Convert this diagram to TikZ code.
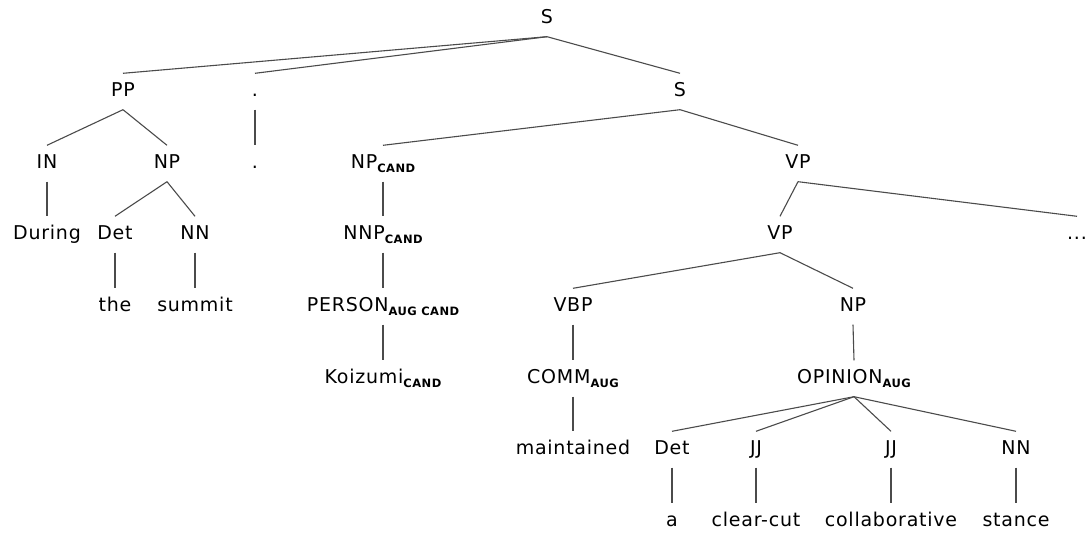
\documentclass[tikz,border=0pt]{standalone}
\usepackage{fontspec}
\setmainfont{DejaVu Sans}[LetterSpace=4]
\newcommand{\lsub}[1]{\raisebox{-4pt}{\fontsize{11.5}{12}\selectfont\bfseries #1}}
\definecolor{edgegray}{RGB}{75,75,75}
\begin{document}
\begin{tikzpicture}[x=1pt,y=-1pt,
  lbl/.style={anchor=base, text height=13pt, text depth=3pt, inner xsep=0pt, inner ysep=10pt,
    font=\fontsize{19}{22}\selectfont, text=black},
  edge/.style={draw=edgegray, line width=1.1pt}]
\useasboundingbox (0,0) rectangle (1085,534);
% rows (baselines)
\def\ra{23.5}\def\rb{96.5}\def\rc{168.5}\def\rd{239.5}
\def\re{311.5}\def\rf{383.5}\def\rg{454.5}\def\rh{526.5}
% row 1
\node[lbl] (S) at (547,\ra) {S};
% row 2
\node[lbl] (PP) at (123,\rb) {PP};
\node[lbl] (comma) at (255,\rb) {.};
\node[lbl] (S2) at (680,\rb) {S};
% row 3
\node[lbl] (IN) at (47,\rc) {IN};
\node[lbl] (NP1) at (167,\rc) {NP};
\node[lbl] (dot) at (255,\rc) {.};
\node[lbl] (NPc) at (383,\rc) {NP\lsub{CAND}};
\node[lbl] (VP1) at (798,\rc) {VP};
% row 4
\node[lbl] (During) at (47,\rd) {During};
\node[lbl] (Det1) at (115,\rd) {Det};
\node[lbl] (NN1) at (195,\rd) {NN};
\node[lbl] (NNPc) at (383,\rd) {NNP\lsub{CAND}};
\node[lbl] (VP2) at (780,\rd) {VP};
\node[lbl] (dots) at (1077,\rd) {...};
% row 5
\node[lbl] (the) at (115,\re) {the};
\node[lbl] (summit) at (195,\re) {summit};
\node[lbl] (PERS) at (383,\re) {PERSON\lsub{AUG CAND}};
\node[lbl] (VBP) at (573,\re) {VBP};
\node[lbl] (NP2) at (853,\re) {NP};
% row 6
\node[lbl] (Koizumi) at (383,\rf) {Koizumi\lsub{CAND}};
\node[lbl] (COMM) at (573,\rf) {COMM\lsub{AUG}};
\node[lbl] (OPIN) at (854,\rf) {OPINION\lsub{AUG}};
% row 7
\node[lbl] (maint) at (573,\rg) {maintained};
\node[lbl] (Det2) at (672,\rg) {Det};
\node[lbl] (JJ1) at (756,\rg) {JJ};
\node[lbl] (JJ2) at (891,\rg) {JJ};
\node[lbl] (NN2) at (1016,\rg) {NN};
% row 8
\node[lbl] (a) at (672,\rh) {a};
\node[lbl] (clear) at (756,\rh) {clear-cut};
\node[lbl] (collab) at (891,\rh) {collaborative};
\node[lbl] (stance) at (1016,\rh) {stance};
% edges
\draw[edge] (S.south) -- (PP.north);
\draw[edge] (S.south) -- (comma.north);
\draw[edge] (S.south) -- (S2.north);
\draw[edge] (PP.south) -- (IN.north);
\draw[edge] (PP.south) -- (NP1.north);
\draw[edge] (comma.south) -- (dot.north);
\draw[edge] (S2.south) -- (NPc.north);
\draw[edge] (S2.south) -- (VP1.north);
\draw[edge] (IN.south) -- (During.north);
\draw[edge] (NP1.south) -- (Det1.north);
\draw[edge] (NP1.south) -- (NN1.north);
\draw[edge] (NPc.south) -- (NNPc.north);
\draw[edge] (VP1.south) -- (VP2.north);
\draw[edge] (VP1.south) -- (dots.north);
\draw[edge] (Det1.south) -- (the.north);
\draw[edge] (NN1.south) -- (summit.north);
\draw[edge] (NNPc.south) -- (PERS.north);
\draw[edge] (VP2.south) -- (VBP.north);
\draw[edge] (VP2.south) -- (NP2.north);
\draw[edge] (PERS.south) -- (Koizumi.north);
\draw[edge] (VBP.south) -- (COMM.north);
\draw[edge] (NP2.south) -- (OPIN.north);
\draw[edge] (COMM.south) -- (maint.north);
\draw[edge] (OPIN.south) -- (Det2.north);
\draw[edge] (OPIN.south) -- (JJ1.north);
\draw[edge] (OPIN.south) -- (JJ2.north);
\draw[edge] (OPIN.south) -- (NN2.north);
\draw[edge] (Det2.south) -- (a.north);
\draw[edge] (JJ1.south) -- (clear.north);
\draw[edge] (JJ2.south) -- (collab.north);
\draw[edge] (NN2.south) -- (stance.north);
\end{tikzpicture}
\end{document}
